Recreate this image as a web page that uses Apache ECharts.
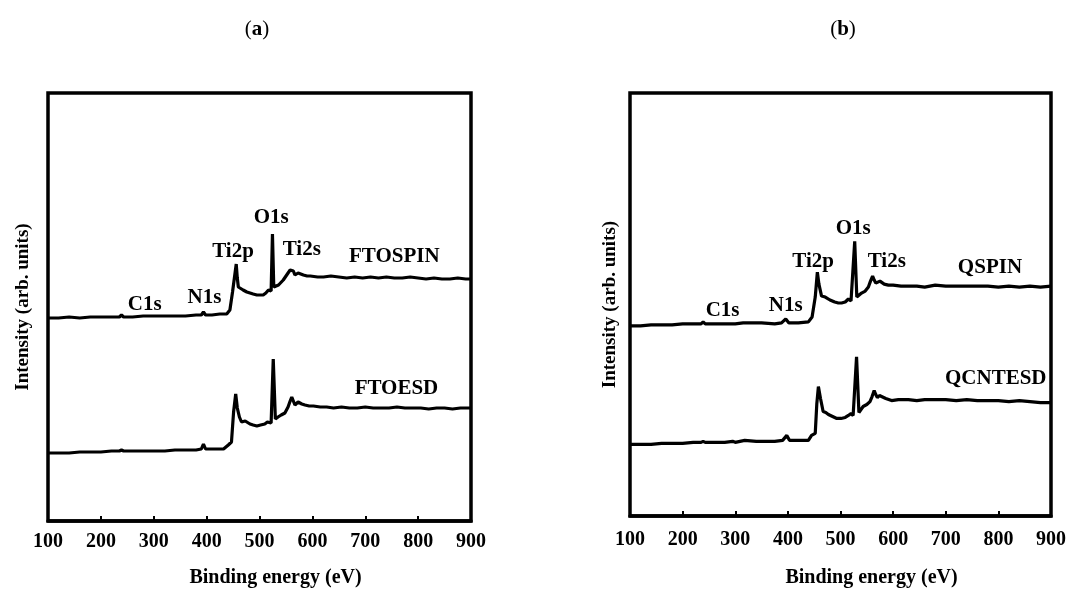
<!DOCTYPE html>
<html>
<head>
<meta charset="utf-8">
<script src="https://cdn.jsdelivr.net/npm/echarts@6/dist/echarts.min.js"></script>
<style>
  html, body { margin: 0; padding: 0; background: #fff; }
  #chart { width: 1071px; height: 593px; }
</style>
</head>
<body>
<div id="chart"></div>
<script type="text/javascript">
// binding energy (eV) / intensity (arb.)
var ftoSpinEV = [100,120,140,160,180,200,220,235,239,243,260,280,300,315,318,321,340,360,380,390,394,398,410,425,438,444,449,454,456,458,460,463,469,476,482,488,495,501,507,512,517,520,522,524.5,527,529,536,545,554,558,561,564,567,570,573,578,583,590,596,610,621,635,650,665,680,695,710,725,740,755,770,785,800,815,830,845,860,875,890,900];
var ftoSpinI  = [203,203,204,203,204,204,204,204,206,204,204,205,205,205,206,205,205,205,206,206,209,206,206,207,207,211,229,249,257,243,234,236,231,229,228,227,226,226,226,228,231,229,230,287,234,233,236,241,248,251,253,250,246,247,248,247,246,245,245,244,244,245,244,243,244,243,244,243,244,243,243,244,243,242,243,242,242,243,242,242];

var ftoEsdEV = [100,120,140,160,180,200,220,235,239,243,260,280,300,315,318,321,340,360,380,390,394,398,410,425,432,441,447,451,455,458,462,466,473,482,488,495,502,510,515,518,522,526,530,535,541,548,554,558,561,564,567,570,573,580,586,594,602,615,627,640,655,670,685,700,715,730,745,760,775,790,805,820,835,850,865,880,900];
var ftoEsdI  = [68,68,68,69,69,69,70,70,71,70,70,70,70,70,71,70,71,71,71,72,77,72,72,72,72,76,79,109,127,113,104,99,100,97,96,95,96,97,99,100,98,162,102,104,106,108,114,120,124,120,116,118,119,117,116,115,115,114,114,113,114,113,113,114,113,113,113,114,113,113,113,112,113,113,112,113,113];

var qSpinEV = [100,120,140,160,180,200,220,235,239,243,260,280,300,315,330,350,375,388,396,402,420,439,446,452,456,459,464,471,480,489,496,502,509,515,520,523,527,531,540,547,553,557,561,564,567,571,575,583,591,600,615,629,645,660,680,700,720,740,760,780,800,820,840,860,880,900];
var qSpinI  = [191,191,192,192,192,193,193,193,195,193,193,193,193,194,194,194,193,194,198,194,194,195,200,220,245,233,221,220,217,215,214,214,215,218,216,217,276,220,224,226,230,236,241,237,234,235,236,233,232,232,231,231,231,230,232,231,231,231,231,231,230,231,230,231,230,231];

var qCntEsdEV = [100,120,140,160,180,200,220,235,239,243,260,280,295,300,318,321,340,360,375,390,398,403,420,439,445,452,455,458,462,467,472,477,485,493,501,509,515,520,524,526,530.5,535,543,550,556,560,564,567,570,574,578,586,597,610,629,645,660,680,700,720,740,760,780,800,820,840,860,880,900];
var qCntEsdI  = [72,72,72,73,73,73,74,74,75,74,74,74,75,74,76,75,75,75,75,76,81,76,76,76,81,83,113,130,118,105,104,102,100,98,98,99,101,103,101,102,160,104,110,112,115,120,126,122,119,121,120,118,116,117,117,116,117,117,117,116,117,116,116,116,115,116,115,114,114];

// peak / sample labels
var labelsA  = ['C1s','N1s','Ti2p','O1s','Ti2s','FTOSPIN','FTOESD'];
var labelsAX = [283,396,450,522,580,755,759];
var labelsAY = [216,223,269,303,271,264,132];
var labelsB  = ['C1s','N1s','Ti2p','O1s','Ti2s','QSPIN','QCNTESD'];
var labelsBX = [276,396,448,524,588,784,795];
var labelsBY = [206,211,256,289,256,250,138];

var xTicks = [100,200,300,400,500,600,700,800,900];

var FONT = 'Liberation Serif';

function zip(xs, ys){
	var out = [];
	for (var i = 0; i < xs.length; i++) out.push([xs[i], ys[i]]);
	return out;
}
function labelData(names, xs, ys){
	var out = [];
	for (var i = 0; i < names.length; i++) out.push({name: names[i], value: [xs[i], ys[i]]});
	return out;
}

function xAxisOf(gridIndex, margin, gap, shift){
	return {
		type: 'value', gridIndex: gridIndex,
		min: xTicks[0], max: xTicks[xTicks.length - 1], interval: 100,
		name: 'Binding energy (eV)', nameLocation: 'middle', nameGap: gap,
		nameTextStyle: {fontFamily: FONT, fontWeight: 'bold', fontSize: 20, color: '#000', padding: [0, 0, 0, shift]},
		axisLine: {show: true, lineStyle: {color: '#000', width: 3.5}},
		axisTick: {show: true, inside: true, length: 5, lineStyle: {color: '#000', width: 2}},
		axisLabel: {margin: margin, fontFamily: FONT, fontWeight: 'bold', fontSize: 20, color: '#000'},
		splitLine: {show: false}
	};
}
function yAxisOf(gridIndex, max, gap){
	return {
		type: 'value', gridIndex: gridIndex, min: 0, max: max,
		name: 'Intensity (arb. units)', nameLocation: 'middle', nameRotate: 90, nameGap: gap,
		nameTextStyle: {fontFamily: FONT, fontWeight: 'bold', fontSize: 19, color: '#000'},
		axisLine: {show: false}, axisTick: {show: false}, axisLabel: {show: false},
		splitLine: {show: false}
	};
}
function lineOf(idx, xs, ys){
	return {
		type: 'line', xAxisIndex: idx, yAxisIndex: idx,
		data: zip(xs, ys), showSymbol: false, symbol: 'none',
		lineStyle: {color: '#000', width: 3.2}, z: 3
	};
}
function labelsOf(idx, names, xs, ys){
	return {
		type: 'scatter', xAxisIndex: idx, yAxisIndex: idx,
		data: labelData(names, xs, ys), symbolSize: 1,
		itemStyle: {color: 'transparent', opacity: 1},
		label: {show: true, position: 'inside', formatter: '{b}',
			fontFamily: FONT, fontWeight: 'bold', fontSize: 21, color: '#000', opacity: 1},
		z: 4
	};
}

var chart = echarts.init(document.getElementById('chart'));
var option = {
	animation: false,
	backgroundColor: '#fff',
	title: [
		{text: '({b|a})', left: 252, top: 14, textAlign: 'center',
		 textStyle: {fontFamily: FONT, fontWeight: 'normal', fontSize: 21, color: '#000',
		 rich: {b: {fontFamily: FONT, fontWeight: 'bold', fontSize: 21, color: '#000'}}}},
		{text: '({b|b})', left: 838, top: 14, textAlign: 'center',
		 textStyle: {fontFamily: FONT, fontWeight: 'normal', fontSize: 21, color: '#000',
		 rich: {b: {fontFamily: FONT, fontWeight: 'bold', fontSize: 21, color: '#000'}}}}
	],
	grid: [
		{left: 48, top: 93, width: 423, height: 428, show: true, borderColor: '#000', borderWidth: 3.5},
		{left: 630, top: 93, width: 421, height: 425, show: true, borderColor: '#000', borderWidth: 3.5}
	],
	xAxis: [xAxisOf(0, 11, 47, 32), xAxisOf(1, 14, 52, 62)],
	yAxis: [yAxisOf(0, 428, 15), yAxisOf(1, 425, 10)],
	series: [
		lineOf(0, ftoSpinEV, ftoSpinI),
		lineOf(0, ftoEsdEV, ftoEsdI),
		lineOf(1, qSpinEV, qSpinI),
		lineOf(1, qCntEsdEV, qCntEsdI),
		labelsOf(0, labelsA, labelsAX, labelsAY),
		labelsOf(1, labelsB, labelsBX, labelsBY)
	]
};
chart.setOption(option);
</script>
</body>
</html>
